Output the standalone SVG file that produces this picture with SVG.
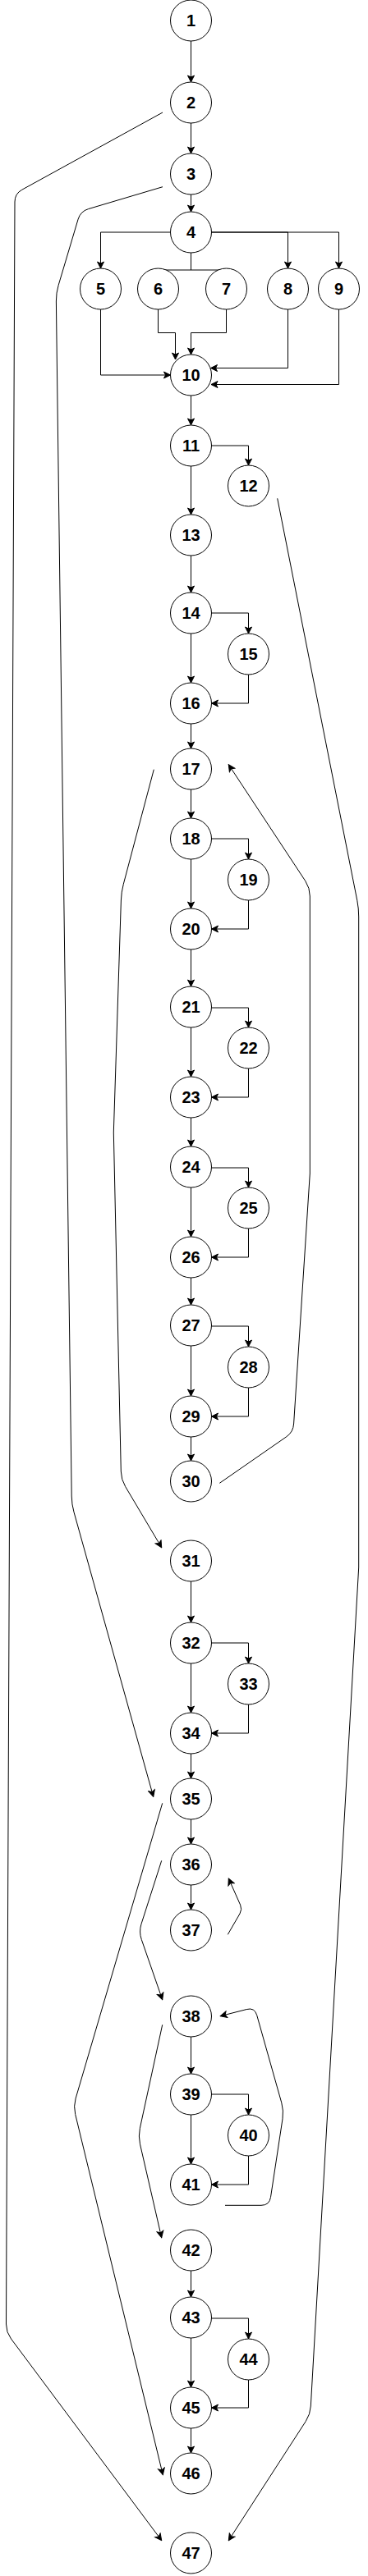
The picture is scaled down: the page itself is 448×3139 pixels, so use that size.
<svg xmlns="http://www.w3.org/2000/svg" width="448" height="3139" viewBox="0 0 448 3139">
<style>
circle{fill:#fff;stroke:#000;stroke-width:1}
text{font-family:"Liberation Sans",Arial,Helvetica,sans-serif;font-weight:bold;font-size:20px;text-anchor:middle;fill:#000}
.e{fill:none;stroke:#000;stroke-width:1;marker-end:url(#a)}
.l{fill:none;stroke:#000;stroke-width:1}
</style>
<defs>
<marker id="a" markerUnits="userSpaceOnUse" markerWidth="10" markerHeight="10" viewBox="0 0 10 10" refX="9" refY="5" orient="auto">
<path d="M1,1 L9,5 L1,9 L3,5 Z" fill="#000" stroke="#000" stroke-width="1"/>
</marker>
</defs>
<g id="connectors">
<path class="e" d="M232.5,50 V100"/>
<path class="e" d="M232.5,150 V187"/>
<path class="e" d="M232.5,237 V258"/>
<path class="e" d="M232.5,482 V518"/>
<path class="e" d="M232.5,568 V627"/>
<path class="e" d="M232.5,677 V722"/>
<path class="e" d="M232.5,772 V832"/>
<path class="e" d="M232.5,882 V912"/>
<path class="e" d="M232.5,962 V997"/>
<path class="e" d="M232.5,1047 V1107"/>
<path class="e" d="M232.5,1157 V1202"/>
<path class="e" d="M232.5,1252 V1312"/>
<path class="e" d="M232.5,1362 V1397"/>
<path class="e" d="M232.5,1447 V1507"/>
<path class="e" d="M232.5,1557 V1590"/>
<path class="e" d="M232.5,1640 V1701"/>
<path class="e" d="M232.5,1751 V1780"/>
<path class="e" d="M232.5,1927 V1977"/>
<path class="e" d="M232.5,2027 V2087"/>
<path class="e" d="M232.5,2137 V2167"/>
<path class="e" d="M232.5,2217 V2247"/>
<path class="e" d="M232.5,2297 V2327"/>
<path class="e" d="M232.5,2482 V2527"/>
<path class="e" d="M232.5,2577 V2637"/>
<path class="e" d="M232.5,2767 V2799"/>
<path class="e" d="M232.5,2849 V2909"/>
<path class="e" d="M232.5,2959 V2989"/>
<path class="e" d="M257.5,543 H302.5 V567"/>
<path class="e" d="M257.5,747 H302.5 V772"/>
<path class="e" d="M302.5,822 V857 H257.5"/>
<path class="e" d="M257.5,1022 H302.5 V1047"/>
<path class="e" d="M302.5,1097 V1132 H257.5"/>
<path class="e" d="M257.5,1228 H302.5 V1252"/>
<path class="e" d="M302.5,1302 V1337 H257.5"/>
<path class="e" d="M257.5,1423 H302.5 V1447"/>
<path class="e" d="M302.5,1497 V1532 H257.5"/>
<path class="e" d="M257.5,1616 H302.5 V1641"/>
<path class="e" d="M302.5,1691 V1726 H257.5"/>
<path class="e" d="M257.5,2002 H302.5 V2027"/>
<path class="e" d="M302.5,2077 V2112 H257.5"/>
<path class="e" d="M257.5,2552 H302.5 V2577"/>
<path class="e" d="M302.5,2627 V2662 H257.5"/>
<path class="e" d="M257.5,2825 H302.5 V2850"/>
<path class="e" d="M302.5,2900 V2934 H257.5"/>
<path class="e" d="M207.5,283 H122.5 V327"/>
<path class="e" d="M257.5,283 H350.5 V327"/>
<path class="e" d="M257.5,283 H412.5 V327"/>
<path class="l" d="M232.5,308 V329 M198,329 H269.5"/>
<path class="e" d="M122.5,377 V457 H207.5"/>
<path class="e" d="M192.5,377 V405.5 H213.5 V438"/>
<path class="e" d="M275.5,377 V405.5 H232.5 V432"/>
<path class="e" d="M350.5,377 V448.5 H256.5"/>
<path class="e" d="M412.5,377 V468.5 H257"/>
<path class="e" d="M198,137 L26.8,231.2 Q18,236 18,246 L7.5,2832 Q7.5,2842 13.5,2850 L196.7,3095.7"/>
<path class="e" d="M198,227.7 L107.6,254.6 Q98,257.5 95.1,267.1 L71.2,347.4 Q68.3,357 68.4,367 L87.2,1823 Q87.3,1833 90,1842.6 L186.7,2189.3"/>
<path class="e" d="M337.7,607.3 L434.8,1097.2 Q436.7,1107 436.7,1117 L436.7,1910 L378.3,2932 Q377.7,2942 372.3,2950.4 L278.3,3095.7"/>
<path class="e" d="M187.3,937.7 L150.3,1077.3 Q147.7,1087 147.4,1097 L138.3,1380 L147.3,1793 Q147.5,1803 152.7,1811.6 L196.7,1885.7"/>
<path class="e" d="M267.3,1807.3 L348.8,1750.7 Q357,1745 357.6,1735 L377.3,1430 L377.3,1092 Q377.3,1082 371.8,1073.6 L278.3,931.7"/>
<path class="e" d="M197.7,2197.3 L92.1,2557.1 Q89.3,2566.7 91.7,2576.4 L198.3,3015.7"/>
<path class="e" d="M196.7,2267.3 L172,2344.5 Q169,2354 172.3,2363.5 L197.7,2436.7"/>
<path class="e" d="M277.3,2357.3 L292,2331.9 Q295,2326.7 292.6,2321.2 L278.3,2289"/>
<path class="e" d="M197.7,2467.3 L170.4,2593.2 Q168.3,2603 170.5,2612.8 L196.7,2726.7"/>
<path class="e" d="M274,2687.3 L318,2687.3 Q328,2687.3 329.5,2677.4 L344,2581.9 Q345.5,2572 342.8,2562.4 L312.7,2455.6 Q310,2446 300.3,2448.5 L268.3,2456.7"/>
</g>
<g id="n1"><circle cx="232.5" cy="25" r="25"/><text x="232.5" y="32">1</text></g>
<g id="n2"><circle cx="232.5" cy="125" r="25"/><text x="232.5" y="132">2</text></g>
<g id="n3"><circle cx="232.5" cy="212" r="25"/><text x="232.5" y="219">3</text></g>
<g id="n4"><circle cx="232.5" cy="283" r="25"/><text x="232.5" y="290">4</text></g>
<g id="n5"><circle cx="122.5" cy="352" r="25"/><text x="122.5" y="359">5</text></g>
<g id="n6"><circle cx="192.5" cy="352" r="25"/><text x="192.5" y="359">6</text></g>
<g id="n7"><circle cx="275.5" cy="352" r="25"/><text x="275.5" y="359">7</text></g>
<g id="n8"><circle cx="350.5" cy="352" r="25"/><text x="350.5" y="359">8</text></g>
<g id="n9"><circle cx="412.5" cy="352" r="25"/><text x="412.5" y="359">9</text></g>
<g id="n10"><circle cx="232.5" cy="457" r="25"/><text x="232.5" y="464">10</text></g>
<g id="n11"><circle cx="232.5" cy="543" r="25"/><text x="232.5" y="550">11</text></g>
<g id="n12"><circle cx="302.5" cy="592" r="25"/><text x="302.5" y="599">12</text></g>
<g id="n13"><circle cx="232.5" cy="652" r="25"/><text x="232.5" y="659">13</text></g>
<g id="n14"><circle cx="232.5" cy="747" r="25"/><text x="232.5" y="754">14</text></g>
<g id="n15"><circle cx="302.5" cy="797" r="25"/><text x="302.5" y="804">15</text></g>
<g id="n16"><circle cx="232.5" cy="857" r="25"/><text x="232.5" y="864">16</text></g>
<g id="n17"><circle cx="232.5" cy="937" r="25"/><text x="232.5" y="944">17</text></g>
<g id="n18"><circle cx="232.5" cy="1022" r="25"/><text x="232.5" y="1029">18</text></g>
<g id="n19"><circle cx="302.5" cy="1072" r="25"/><text x="302.5" y="1079">19</text></g>
<g id="n20"><circle cx="232.5" cy="1132" r="25"/><text x="232.5" y="1139">20</text></g>
<g id="n21"><circle cx="232.5" cy="1227" r="25"/><text x="232.5" y="1234">21</text></g>
<g id="n22"><circle cx="302.5" cy="1277" r="25"/><text x="302.5" y="1284">22</text></g>
<g id="n23"><circle cx="232.5" cy="1337" r="25"/><text x="232.5" y="1344">23</text></g>
<g id="n24"><circle cx="232.5" cy="1422" r="25"/><text x="232.5" y="1429">24</text></g>
<g id="n25"><circle cx="302.5" cy="1472" r="25"/><text x="302.5" y="1479">25</text></g>
<g id="n26"><circle cx="232.5" cy="1532" r="25"/><text x="232.5" y="1539">26</text></g>
<g id="n27"><circle cx="232.5" cy="1615" r="25"/><text x="232.5" y="1622">27</text></g>
<g id="n28"><circle cx="302.5" cy="1666" r="25"/><text x="302.5" y="1673">28</text></g>
<g id="n29"><circle cx="232.5" cy="1726" r="25"/><text x="232.5" y="1733">29</text></g>
<g id="n30"><circle cx="232.5" cy="1805" r="25"/><text x="232.5" y="1812">30</text></g>
<g id="n31"><circle cx="232.5" cy="1902" r="25"/><text x="232.5" y="1909">31</text></g>
<g id="n32"><circle cx="232.5" cy="2002" r="25"/><text x="232.5" y="2009">32</text></g>
<g id="n33"><circle cx="302.5" cy="2052" r="25"/><text x="302.5" y="2059">33</text></g>
<g id="n34"><circle cx="232.5" cy="2112" r="25"/><text x="232.5" y="2119">34</text></g>
<g id="n35"><circle cx="232.5" cy="2192" r="25"/><text x="232.5" y="2199">35</text></g>
<g id="n36"><circle cx="232.5" cy="2272" r="25"/><text x="232.5" y="2279">36</text></g>
<g id="n37"><circle cx="232.5" cy="2352" r="25"/><text x="232.5" y="2359">37</text></g>
<g id="n38"><circle cx="232.5" cy="2457" r="25"/><text x="232.5" y="2464">38</text></g>
<g id="n39"><circle cx="232.5" cy="2552" r="25"/><text x="232.5" y="2559">39</text></g>
<g id="n40"><circle cx="302.5" cy="2602" r="25"/><text x="302.5" y="2609">40</text></g>
<g id="n41"><circle cx="232.5" cy="2662" r="25"/><text x="232.5" y="2669">41</text></g>
<g id="n42"><circle cx="232.5" cy="2742" r="25"/><text x="232.5" y="2749">42</text></g>
<g id="n43"><circle cx="232.5" cy="2824" r="25"/><text x="232.5" y="2831">43</text></g>
<g id="n44"><circle cx="302.5" cy="2875" r="25"/><text x="302.5" y="2882">44</text></g>
<g id="n45"><circle cx="232.5" cy="2934" r="25"/><text x="232.5" y="2941">45</text></g>
<g id="n46"><circle cx="232.5" cy="3014" r="25"/><text x="232.5" y="3021">46</text></g>
<g id="n47"><circle cx="232.5" cy="3111" r="25"/><text x="232.5" y="3118">47</text></g>
</svg>
